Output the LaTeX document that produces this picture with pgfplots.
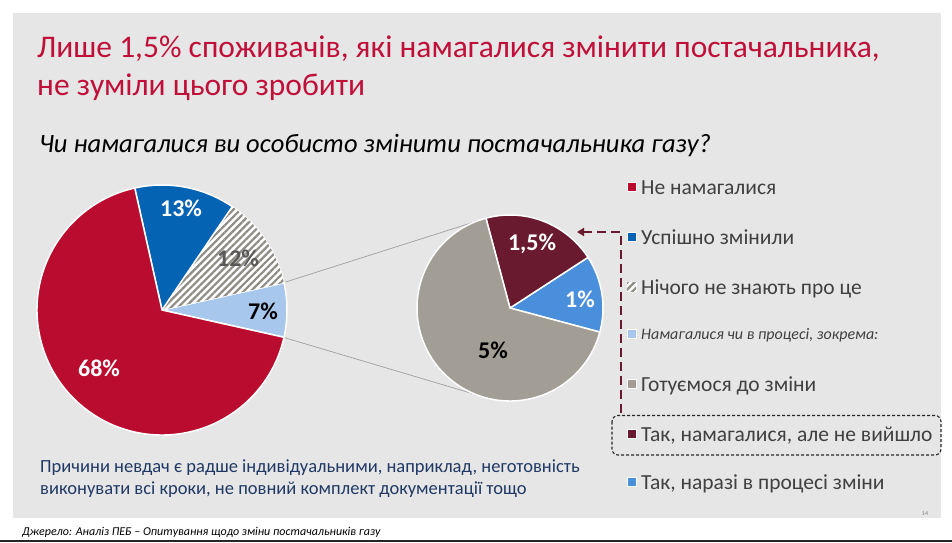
\documentclass[border=0pt]{standalone}
\usepackage{fontspec}
\setmainfont{Carlito}
\usepackage{pgfplots}
\usepackage{pgfplotstable}
\pgfplotsset{compat=1.18}
\usetikzlibrary{patterns.meta,arrows.meta}

\definecolor{bgbox}{HTML}{E6E6E6}
\definecolor{titlered}{HTML}{C0103A}
\definecolor{pieRed}{HTML}{BA0C2F}
\definecolor{pieBlue}{HTML}{0563B4}
\definecolor{pieLight}{HTML}{A7C7EC}
\definecolor{hatchGray}{HTML}{8F8B85}
\definecolor{pieGray}{HTML}{A39E95}
\definecolor{pieMaroon}{HTML}{6A1A2F}
\definecolor{pieMid}{HTML}{4A8FDB}
\definecolor{legtext}{HTML}{404040}
\definecolor{navy}{HTML}{1F3864}

\tikzset{
  sRed/.style={fill=pieRed},
  sBlue/.style={fill=pieBlue},
  sLight/.style={fill=pieLight},
  sHatch/.style={fill=white, postaction={pattern={Lines[angle=45,distance=5pt,line width=2.2pt]}, pattern color=hatchGray}},
  sGray/.style={fill=pieGray},
  sMaroon/.style={fill=pieMaroon},
  sMid/.style={fill=pieMid},
}

% main pie: share of all respondents (%)
\pgfplotstableread{
value style
7 sLight
12 sHatch
13 sBlue
68 sRed
}\mainpie
% second pie: breakdown of the 7% (in % of all respondents)
\pgfplotstableread{
value style
1 sMid
1.5 sMaroon
5 sGray
}\subpie

% #1 table, #2 cx, #3 cy, #4 radius (pt), #5 start angle, #6 total
\newcommand{\drawpie}[6]{%
  \pgfplotstablegetrowsof{#1}\let\nrows\pgfplotsretval
  \xdef\curangle{#5}%
  \pgfmathtruncatemacro\lastrow{\nrows-1}%
  \pgfplotsforeachungrouped \i in {0,...,\lastrow}{%
    \pgfplotstablegetelem{\i}{value}\of{#1}\let\val\pgfplotsretval
    \pgfplotstablegetelem{\i}{style}\of{#1}\let\sty\pgfplotsretval
    \pgfmathsetmacro\nextangle{\curangle+(\val/#6)*360}%
    \edef\temp{\noexpand\fill[\sty, draw=white, line width=1.5pt] (axis cs:#2,#3) -- ++(\curangle:#4pt) arc[start angle=\curangle, end angle=\nextangle, radius=#4pt] -- cycle;}%
    \temp
    \xdef\curangle{\nextangle}%
  }%
}

\begin{document}
\begin{tikzpicture}
\begin{axis}[
  scale only axis, width=952pt, height=542pt,
  xmin=0, xmax=952, ymin=0, ymax=542, y dir=reverse,
  hide axis, clip=false,
]
% background
\fill[white] (axis cs:0,0) rectangle (axis cs:952,542);
\fill[bgbox] (axis cs:13,13) rectangle (axis cs:941,518);
\fill[black!85] (axis cs:0,539.5) rectangle (axis cs:952,542);

% titles
\node[anchor=base west, text=titlered, font=\fontsize{31.5}{36}\selectfont, inner sep=0pt] at (axis cs:37,57) {Лише 1,5\% споживачів, які намагалися змінити постачальника,};
\node[anchor=base west, text=titlered, font=\fontsize{31.5}{36}\selectfont, inner sep=0pt] at (axis cs:37,95) {не зуміли цього зробити};
\node[anchor=base west, text=black, font=\fontsize{26.5}{30}\selectfont\itshape, inner sep=0pt] at (axis cs:39,152) {Чи намагалися ви особисто змінити постачальника газу?};

% connector lines
\draw[gray!75, line width=0.7pt] (axis cs:284,282.5) -- (axis cs:476.7,221.2);
\draw[gray!75, line width=0.7pt] (axis cs:284,337.5) -- (axis cs:476.7,394.8);

% pies
\drawpie{\mainpie}{162}{310}{125}{-12.6}{100}
\drawpie{\subpie}{510}{308}{93}{-15}{7.5}

% pie labels
\node[font=\fontsize{24}{26}\selectfont\bfseries, text=white] at (axis cs:181,208) {13\%};
\node[font=\fontsize{24}{26}\selectfont\bfseries, text=black!65] at (axis cs:238,258) {12\%};
\node[font=\fontsize{24}{26}\selectfont\bfseries, text=black] at (axis cs:263,311) {7\%};
\node[font=\fontsize{24}{26}\selectfont\bfseries, text=white] at (axis cs:99,368) {68\%};
\node[font=\fontsize{24}{26}\selectfont\bfseries, text=white] at (axis cs:532,244) {1,5\%};
\node[font=\fontsize{24}{26}\selectfont\bfseries, text=white] at (axis cs:580,299) {1\%};
\node[font=\fontsize{24}{26}\selectfont\bfseries, text=black] at (axis cs:493,350) {5\%};

% dashed arrow and box
\draw[pieMaroon, line width=2pt, dash pattern=on 9pt off 5pt, -{Triangle[length=7pt,width=8pt]}] (axis cs:621,413) -- (axis cs:621,232) -- (axis cs:577,232);
\draw[black!85, dash pattern=on 3pt off 2pt, rounded corners=6pt, line width=1.1pt] (axis cs:612,415.5) rectangle (axis cs:941,455);

% legend
\foreach \yy/\st in {187/sRed,237/sBlue,287/sHatch,334/sLight,384/sGray,434/sMaroon,482/sMid}{
  \edef\temp{\noexpand\fill[\st, draw=white, line width=0.8pt] (axis cs:627,\yy-4.5) rectangle (axis cs:636,\yy+4.5);}
  \temp
}
\node[anchor=base west, inner sep=0pt, text=legtext, font=\fontsize{21.5}{24}\selectfont] at (axis cs:641,194) {Не намагалися};
\node[anchor=base west, inner sep=0pt, text=legtext, font=\fontsize{21.5}{24}\selectfont] at (axis cs:641,244) {Успішно змінили};
\node[anchor=base west, inner sep=0pt, text=legtext, font=\fontsize{21.5}{24}\selectfont] at (axis cs:641,294) {Нічого не знають про це};
\node[anchor=base west, inner sep=0pt, text=legtext, font=\fontsize{16}{18}\selectfont\itshape] at (axis cs:641,339) {Намагалися чи в процесі, зокрема:};
\node[anchor=base west, inner sep=0pt, text=legtext, font=\fontsize{21.5}{24}\selectfont] at (axis cs:641,391) {Готуємося до зміни};
\node[anchor=base west, inner sep=0pt, text=legtext, font=\fontsize{21.5}{24}\selectfont] at (axis cs:641,441) {Так, намагалися, але не вийшло};
\node[anchor=base west, inner sep=0pt, text=legtext, font=\fontsize{21.5}{24}\selectfont] at (axis cs:641,489) {Так, наразі в процесі зміни};

% bottom note
\node[anchor=base west, inner sep=0pt, text=navy, font=\fontsize{18.5}{22}\selectfont] at (axis cs:40,472) {Причини невдач є радше індивідуальними, наприклад, неготовність};
\node[anchor=base west, inner sep=0pt, text=navy, font=\fontsize{18.5}{22}\selectfont] at (axis cs:40,494) {виконувати всі кроки, не повний комплект документації тощо};

% footer
\node[anchor=base west, inner sep=0pt, text=black, font=\fontsize{12}{13}\selectfont\itshape] at (axis cs:22,535) {Джерело: Аналіз ПЕБ – Опитування щодо зміни постачальників газу};
\node[inner sep=0pt, text=gray, font=\fontsize{6}{7}\selectfont] at (axis cs:925,514) {14};
\end{axis}
\pgfresetboundingbox
\path (0,0) rectangle (952pt,542pt);
\end{tikzpicture}
\end{document}
